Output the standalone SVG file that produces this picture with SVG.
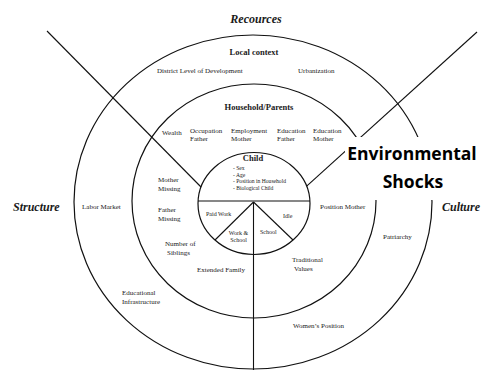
<svg xmlns="http://www.w3.org/2000/svg" width="481" height="370" viewBox="0 0 481 370">
  <style>
    .ring { fill: none; stroke: #111; stroke-width: 1.2; }
    .ln { fill: none; stroke: #111; stroke-width: 1.1; }
    text { font-family: "Liberation Serif", "Times New Roman", serif; fill: #1a1a1a; }
    .lbl { font-size: 7px; }
    .sm { font-size: 6px; }
    .xs { font-size: 5.6px; }
    .hd { font-size: 8.5px; font-weight: bold; }
    .dim { font-size: 12px; font-weight: bold; font-style: italic; }
    .shock { font-family: "Open Sans", "DejaVu Sans", sans-serif; font-size: 17.5px; font-weight: bold; fill: #000; }
  </style>

  <rect width="481" height="370" fill="#fff"/>

  <!-- rings: local context, household, child -->
  <g id="local-context">
    <ellipse class="ring" cx="253" cy="202" rx="179" ry="167"/>
    <text class="hd" x="254" y="55" text-anchor="middle">Local context</text>
    <text class="lbl" x="157" y="73">District Level of Development</text>
    <text class="lbl" x="298" y="73">Urbanization</text>
    <text class="lbl" x="82" y="209">Labor Market</text>
    <text class="lbl" x="122" y="295">Educational</text>
    <text class="lbl" x="122" y="304">Infrastructure</text>
    <text class="lbl" x="383" y="239">Patriarchy</text>
    <text class="lbl" x="293" y="328">Women’s Position</text>
  </g>

  <g id="household">
    <ellipse class="ring" cx="254" cy="201" rx="122" ry="117"/>
    <text class="hd" x="259" y="110" text-anchor="middle">Household/Parents</text>
    <text class="lbl" x="162" y="135">Wealth</text>
    <text class="lbl" x="190" y="132.5">Occupation</text>
    <text class="lbl" x="190" y="141">Father</text>
    <text class="lbl" x="231" y="132.5">Employment</text>
    <text class="lbl" x="231" y="141">Mother</text>
    <text class="lbl" x="277" y="132.5">Education</text>
    <text class="lbl" x="277" y="141">Father</text>
    <text class="lbl" x="313" y="132.5">Education</text>
    <text class="lbl" x="313" y="141">Mother</text>
    <text class="lbl" x="158" y="181.5">Mother</text>
    <text class="lbl" x="158" y="190.5">Missing</text>
    <text class="lbl" x="158" y="212">Father</text>
    <text class="lbl" x="158" y="220.5">Missing</text>
    <text class="lbl" x="165" y="246">Number of</text>
    <text class="lbl" x="167" y="255">Siblings</text>
    <text class="lbl" x="197" y="272">Extended Family</text>
    <text class="lbl" x="320" y="209">Position Mother</text>
    <text class="lbl" x="292" y="262">Traditional</text>
    <text class="lbl" x="294" y="271">Values</text>
  </g>

  <g id="child">
    <ellipse class="ring" cx="254" cy="203.5" rx="56" ry="51"/>
    <text class="hd" x="253" y="161" text-anchor="middle">Child</text>
    <text class="xs" x="233" y="170">- Sex</text>
    <text class="xs" x="233" y="176.5">- Age</text>
    <text class="xs" x="233" y="183">- Position in Household</text>
    <text class="xs" x="233" y="189.5">- Biological Child</text>
    <text class="sm" x="206" y="216">Paid Work</text>
    <text class="sm" x="283" y="218">Idle</text>
    <text class="sm" x="238.5" y="235" text-anchor="middle">Work &amp;</text>
    <text class="sm" x="238.5" y="242" text-anchor="middle">School</text>
    <text class="sm" x="260" y="234">School</text>
  </g>

  <!-- dividing lines -->
  <g id="connectors">
    <line class="ln" x1="47" y1="31" x2="201" y2="187"/>
    <line class="ln" x1="477" y1="32" x2="306.7" y2="186.2"/>
    <line class="ln" x1="198" y1="201" x2="310" y2="201"/>
    <line class="ln" x1="253.5" y1="202" x2="215" y2="240"/>
    <line class="ln" x1="253.5" y1="202" x2="293" y2="240"/>
    <line class="ln" x1="253.5" y1="202" x2="253.5" y2="370"/>
  </g>

  <!-- dimension headings -->
  <g id="dimensions">
    <text class="dim" x="256" y="23" text-anchor="middle">Recources</text>
    <text class="dim" x="13" y="211">Structure</text>
    <text class="dim" x="442" y="211">Culture</text>
  </g>

  <!-- label sitting on top of the rings -->
  <g id="environmental-shocks">
    <rect x="345" y="137" width="136" height="63" fill="#fff"/>
    <text class="shock" x="412" y="160" text-anchor="middle">Environmental</text>
    <text class="shock" x="413" y="188" text-anchor="middle">Shocks</text>
  </g>
</svg>
